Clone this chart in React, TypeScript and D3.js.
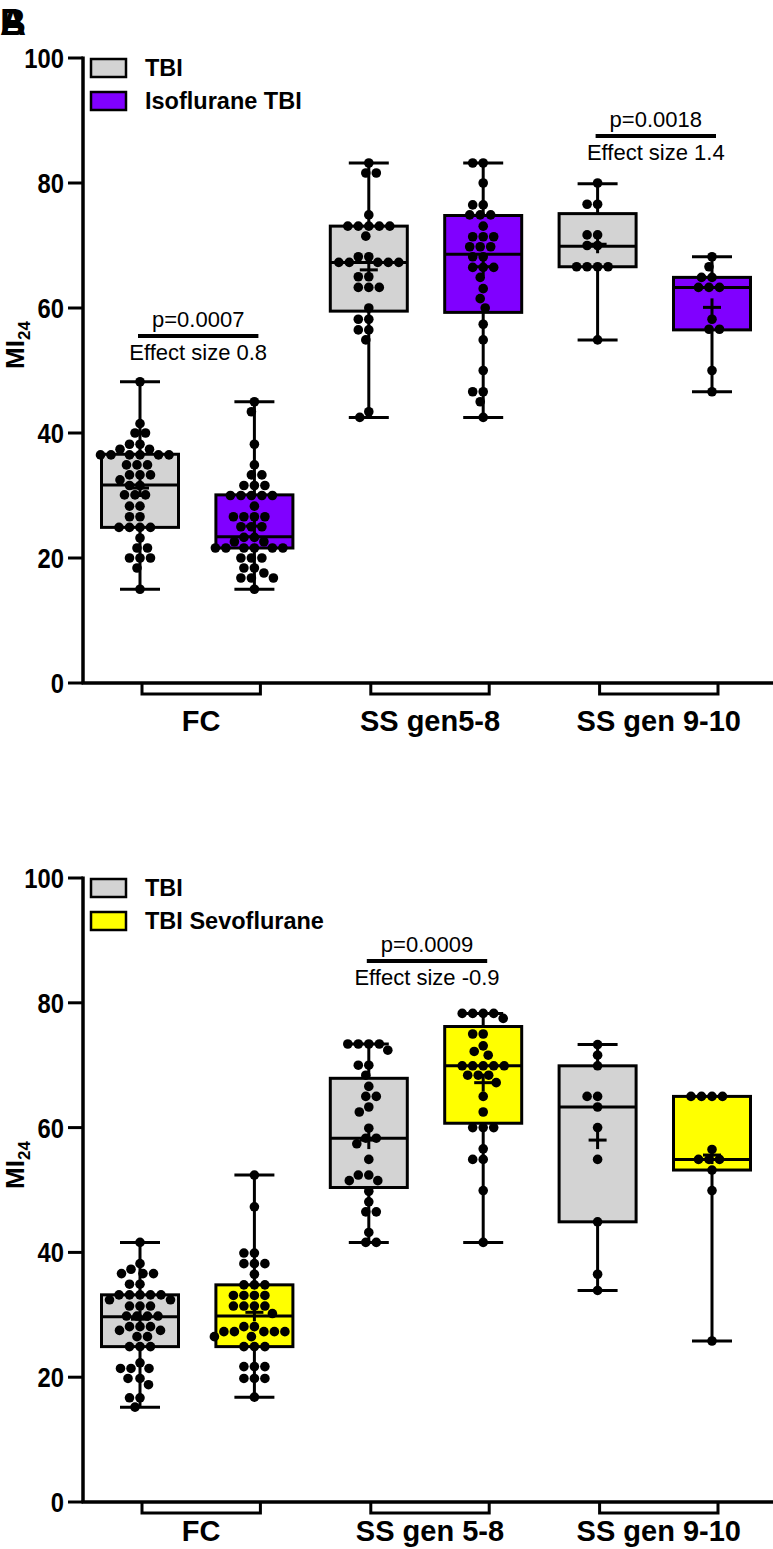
import React from 'react';
import * as d3 from 'd3';

// ─── Data ─────────────────────────────────────────────────────────────────────
const GROUPS_A = ['FC', 'SS gen5-8', 'SS gen 9-10'];
const GROUPS_B = ['FC', 'SS gen 5-8', 'SS gen 9-10'];
const TICKS = [0, 20, 40, 60, 80, 100];

// Panel A: TBI vs Isoflurane TBI (each group: TBI, Isoflurane)
const A_FC_TBI = [48.2, 41.5, 40, 40, 38.2, 38.2, 37.4, 37.4, 36.5, 36.5, 36.5, 36.5, 36.5, 36.5, 34.9, 34.9, 34.9, 33.3, 33.3, 33.3, 32.5, 31.6, 31.6, 30.1, 30.1, 30.1, 28.3, 28.3, 26.6, 26.6, 24.9, 24.9, 24.9, 24.9, 23.2, 21.6, 21.6, 20, 20, 20, 18.4, 15];
const A_FC_ISO = [45, 43.4, 38.2, 34.9, 33.3, 33.3, 31.6, 31.6, 31.6, 30, 30, 30, 30, 30, 28.3, 26.6, 26.6, 26.6, 26.6, 25, 25, 25, 23.3, 23.3, 22.6, 22.6, 21.6, 21.6, 21.6, 21.6, 21.6, 21.6, 20, 20, 20, 18.4, 18.4, 17.6, 16.8, 16.8, 16.8, 15];
const A_SS_TBI = [83.2, 81.6, 81.6, 74.9, 73.1, 73.1, 73.1, 73.1, 73.1, 71.5, 68.2, 68.2, 67.3, 67.3, 67.3, 67.3, 67.3, 65, 65, 63.3, 63.3, 63.3, 60, 58.2, 58.2, 56.5, 56.5, 54.9, 43.4, 42.5];
const A_SS_ISO = [83.2, 83.2, 80, 76.5, 76.5, 74.9, 74.9, 74.9, 73.1, 71.4, 71.4, 71.4, 69.8, 69.8, 69.8, 68.2, 68.2, 66.5, 66.5, 66.5, 64.9, 63.1, 61.5, 60, 57.4, 54.9, 50, 46.6, 46.6, 45, 42.5];
const A_910_TBI = [80, 76.6, 76.6, 71.7, 71.7, 70, 70, 66.6, 66.6, 66.6, 66.6, 54.9];
const A_910_ISO = [68.2, 66.6, 64.9, 64.9, 63.3, 63.3, 63.3, 58.2, 56.6, 56.6, 50, 46.6];

const A_MIN = [15, 15, 42.5, 42.5, 54.9, 46.6];
const A_Q1 = [24.9, 21.6, 59.5, 59.3, 66.6, 56.5];
const A_MED = [31.7, 23.4, 67.3, 68.6, 69.9, 63.3];
const A_Q3 = [36.6, 30.1, 73.1, 74.8, 75.1, 64.9];
const A_MAX = [48.2, 45, 83.2, 83.2, 79.9, 68.2];
const A_MEAN = [31.2, 25.1, 66.1, 66.6, 70.2, 60.1];

// Panel B: TBI vs TBI Sevoflurane
const B_FC_TBI = [41.6, 38.2, 37.3, 36.6, 36.6, 36.6, 34.9, 34.9, 33.2, 33.2, 33.2, 33.2, 33.2, 32.4, 32.4, 31.4, 31.4, 31.4, 29.8, 29.8, 29.8, 29.8, 28.1, 28.1, 28.1, 27.5, 27.5, 26.5, 26.5, 24.9, 24.9, 24.9, 22.3, 21.4, 21.4, 21.4, 19.8, 19.8, 18.8, 16.7, 16.7, 15.2];
const B_FC_SEVO = [52.4, 47.3, 39.9, 39.9, 38.2, 38.2, 38.2, 36.5, 34.8, 34.8, 34.8, 33.1, 33.1, 33.1, 33.1, 31.4, 31.4, 31.4, 31.4, 30.2, 28.1, 28.1, 27.3, 27.3, 27.3, 27.3, 27.3, 26.5, 26.5, 24.9, 24.9, 24.9, 21.7, 21.7, 21.7, 19.8, 19.8, 19.8, 16.8];
const B_SS_TBI = [73.4, 73.4, 73.4, 73.4, 72.4, 70, 70, 68.4, 66.6, 65, 65, 63.3, 62.5, 59.9, 58.3, 58.3, 57.4, 54.9, 52.4, 52.4, 51.5, 51.5, 49.8, 48.1, 46.5, 46.5, 43.2, 41.6, 41.6];
const B_SS_SEVO = [78.3, 78.3, 78.3, 78.3, 77.5, 75, 75, 73.1, 72.2, 71.6, 69.9, 69.9, 69.9, 69.9, 69.9, 68.4, 68.4, 68.4, 67.2, 65, 62.5, 60, 60, 60, 56.6, 54.9, 54.9, 49.9, 41.6];
const B_910_TBI = [73.3, 71.6, 69.9, 65, 65, 63.3, 60, 54.9, 44.9, 36.5, 33.9];
const B_910_SEVO = [65, 65, 65, 65, 56.5, 54.9, 54.9, 54.9, 53.2, 49.9, 25.8];

const B_MIN = [15.2, 16.8, 41.6, 41.6, 33.9, 25.8];
const B_Q1 = [24.9, 24.9, 50.4, 60.7, 44.9, 53.2];
const B_MED = [29.7, 29.8, 58.3, 69.9, 63.3, 54.9];
const B_Q3 = [33.2, 34.8, 67.9, 76.2, 69.9, 65];
const B_MAX = [41.6, 52.4, 73.4, 78.3, 73.3, 65];
const B_MEAN = [29.3, 30.4, 58.0, 67.2, 58.0, 55.6];

const GRAY = '#d3d3d3';
const PURPLE = '#8000ff';
const YELLOW = '#ffff00';
const FONT = '"Liberation Sans", Arial, sans-serif';

// ─── Beeswarm placement ──────────────────────────────────────────────────────
function swarm(values: number[], cx: number, y: (v: number) => number, r: number) {
  const pts = values.map(v => y(v)).sort((a, b) => a - b);
  const placed: { x: number; y: number }[] = [];
  const d = 2 * r + 0.8;
  for (const py of pts) {
    let best = 0;
    for (let k = 0; k < 400; k++) {
      const off = (k % 2 === 0 ? 1 : -1) * Math.ceil(k / 2) * 0.5;
      if (placed.every(q => (q.x - off) ** 2 + (q.y - py) ** 2 >= d * d)) { best = off; break; }
    }
    placed.push({ x: best, y: py });
  }
  return placed.map(q => ({ x: cx + q.x, y: q.y }));
}

type PanelProps = {
  top: number; bottom: number;
  groups: string[]; series: number[][]; colors: string[];
  mins: number[]; q1s: number[]; meds: number[]; q3s: number[]; maxs: number[]; means: number[];
  legend: string[]; legendColors: string[];
  sig: { i: number; p: string; eff: string; lineY: number }[];
  labelY: number; titleY: number;
};

function Panel(props: PanelProps) {
  const { top, bottom, groups, series, colors, mins, q1s, meds, q3s, maxs, means } = props;
  const y = d3.scaleLinear().domain([0, 100]).range([bottom, top]);
  const x = d3.scalePoint<number>().domain(d3.range(6)).range([140, 712]);
  const axisX = 83;
  const boxW = 77;
  const capW = 40;
  const r = 4.8;

  return (
    <g fontFamily={FONT}>
      {/* Legend */}
      {props.legend.map((t, i) => (
        <g key={t}>
          <rect x={91} y={top + 1 + i * 33} width={35} height={18} fill={props.legendColors[i]} stroke="#000" strokeWidth={2.5} />
          <text x={145} y={top + 18 + i * 33} fontSize={23.5} fontWeight="bold">{t}</text>
        </g>
      ))}

      {/* Boxes */}
      {series.map((vals, i) => {
        const cx = x(i)!;
        const pts = swarm(vals, cx, y, r);
        return (
          <g key={i}>
            <line x1={cx} x2={cx} y1={y(maxs[i])} y2={y(mins[i])} stroke="#000" strokeWidth={3} />
            <line x1={cx - capW / 2} x2={cx + capW / 2} y1={y(maxs[i])} y2={y(maxs[i])} stroke="#000" strokeWidth={3} />
            <line x1={cx - capW / 2} x2={cx + capW / 2} y1={y(mins[i])} y2={y(mins[i])} stroke="#000" strokeWidth={3} />
            <rect x={cx - boxW / 2} y={y(q3s[i])} width={boxW} height={y(q1s[i]) - y(q3s[i])}
              fill={colors[i]} stroke="#000" strokeWidth={3} />
            <line x1={cx - boxW / 2} x2={cx + boxW / 2} y1={y(meds[i])} y2={y(meds[i])} stroke="#000" strokeWidth={3} />
            {pts.map((p, j) => <circle key={j} cx={p.x} cy={p.y} r={r} fill="#000" />)}
            <line x1={cx - 9} x2={cx + 9} y1={y(means[i])} y2={y(means[i])} stroke="#000" strokeWidth={3} />
            <line x1={cx} x2={cx} y1={y(means[i]) - 9} y2={y(means[i]) + 9} stroke="#000" strokeWidth={3} />
          </g>
        );
      })}

      {/* Significance */}
      {props.sig.map(s => {
        const x1 = x(s.i)! - 2;
        const x2 = x(s.i + 1)! + 4;
        const mid = (x1 + x2) / 2;
        return (
          <g key={s.i}>
            <line x1={x1} x2={x2} y1={s.lineY} y2={s.lineY} stroke="#000" strokeWidth={4} />
            <text x={mid} y={s.lineY - 9} textAnchor="middle" fontSize={22}>{s.p}</text>
            <text x={mid} y={s.lineY + 24} textAnchor="middle" fontSize={22}>{s.eff}</text>
          </g>
        );
      })}

      {/* Y axis */}
      <line x1={axisX} x2={axisX} y1={top - 1.5} y2={bottom} stroke="#000" strokeWidth={3.5} />
      {TICKS.map(t => (
        <g key={t}>
          <line x1={68} x2={axisX} y1={y(t)} y2={y(t)} stroke="#000" strokeWidth={3} />
          <text transform={`translate(64,${y(t)}) scale(0.85,1)`} textAnchor="end" dy="0.36em"
            fontSize={28} fontWeight="bold">{t}</text>
        </g>
      ))}
      <text transform={`translate(24,${props.titleY}) rotate(-90)`} textAnchor="middle" fontWeight="bold" fontSize={26}>
        MI<tspan fontSize={17} dy={6}>24</tspan>
      </text>

      {/* X axis with brackets */}
      <line x1={axisX - 1.5} x2={773} y1={bottom} y2={bottom} stroke="#000" strokeWidth={3.5} />
      {groups.map((g, gi) => {
        const x1 = x(gi * 2)! + 2;
        const x2 = x(gi * 2 + 1)! + 6;
        return (
          <g key={g}>
            <path d={`M${x1},${bottom}V${bottom + 11}H${x2}V${bottom}`} fill="none" stroke="#000" strokeWidth={3} />
            <text x={(x1 + x2) / 2} y={props.labelY} textAnchor="middle" fontSize={29} fontWeight="bold">{g}</text>
          </g>
        );
      })}
    </g>
  );
}

export default function App() {
  return (
    <svg width={773} height={1549} style={{ position: 'absolute', left: 0, top: 0, background: '#fff' }}>
      <g fontFamily={FONT} fontWeight="bold" fontSize={36}>
        <text x={0} y={35}>A</text>
        <text x={0} y={35}>B</text>
      </g>
      <Panel
        top={58} bottom={683}
        groups={GROUPS_A}
        series={[A_FC_TBI, A_FC_ISO, A_SS_TBI, A_SS_ISO, A_910_TBI, A_910_ISO]}
        colors={[GRAY, PURPLE, GRAY, PURPLE, GRAY, PURPLE]}
        mins={A_MIN} q1s={A_Q1} meds={A_MED} q3s={A_Q3} maxs={A_MAX} means={A_MEAN}
        legend={['TBI', 'Isoflurane TBI']} legendColors={[GRAY, PURPLE]}
        sig={[
          { i: 0, p: 'p=0.0007', eff: 'Effect size 0.8', lineY: 336 },
          { i: 4, p: 'p=0.0018', eff: 'Effect size 1.4', lineY: 136 },
        ]}
        labelY={731} titleY={345}
      />
      <Panel
        top={878} bottom={1502}
        groups={GROUPS_B}
        series={[B_FC_TBI, B_FC_SEVO, B_SS_TBI, B_SS_SEVO, B_910_TBI, B_910_SEVO]}
        colors={[GRAY, YELLOW, GRAY, YELLOW, GRAY, YELLOW]}
        mins={B_MIN} q1s={B_Q1} meds={B_MED} q3s={B_Q3} maxs={B_MAX} means={B_MEAN}
        legend={['TBI', 'TBI Sevoflurane']} legendColors={[GRAY, YELLOW]}
        sig={[{ i: 2, p: 'p=0.0009', eff: 'Effect size -0.9', lineY: 961 }]}
        labelY={1541} titleY={1165}
      />
    </svg>
  );
}
